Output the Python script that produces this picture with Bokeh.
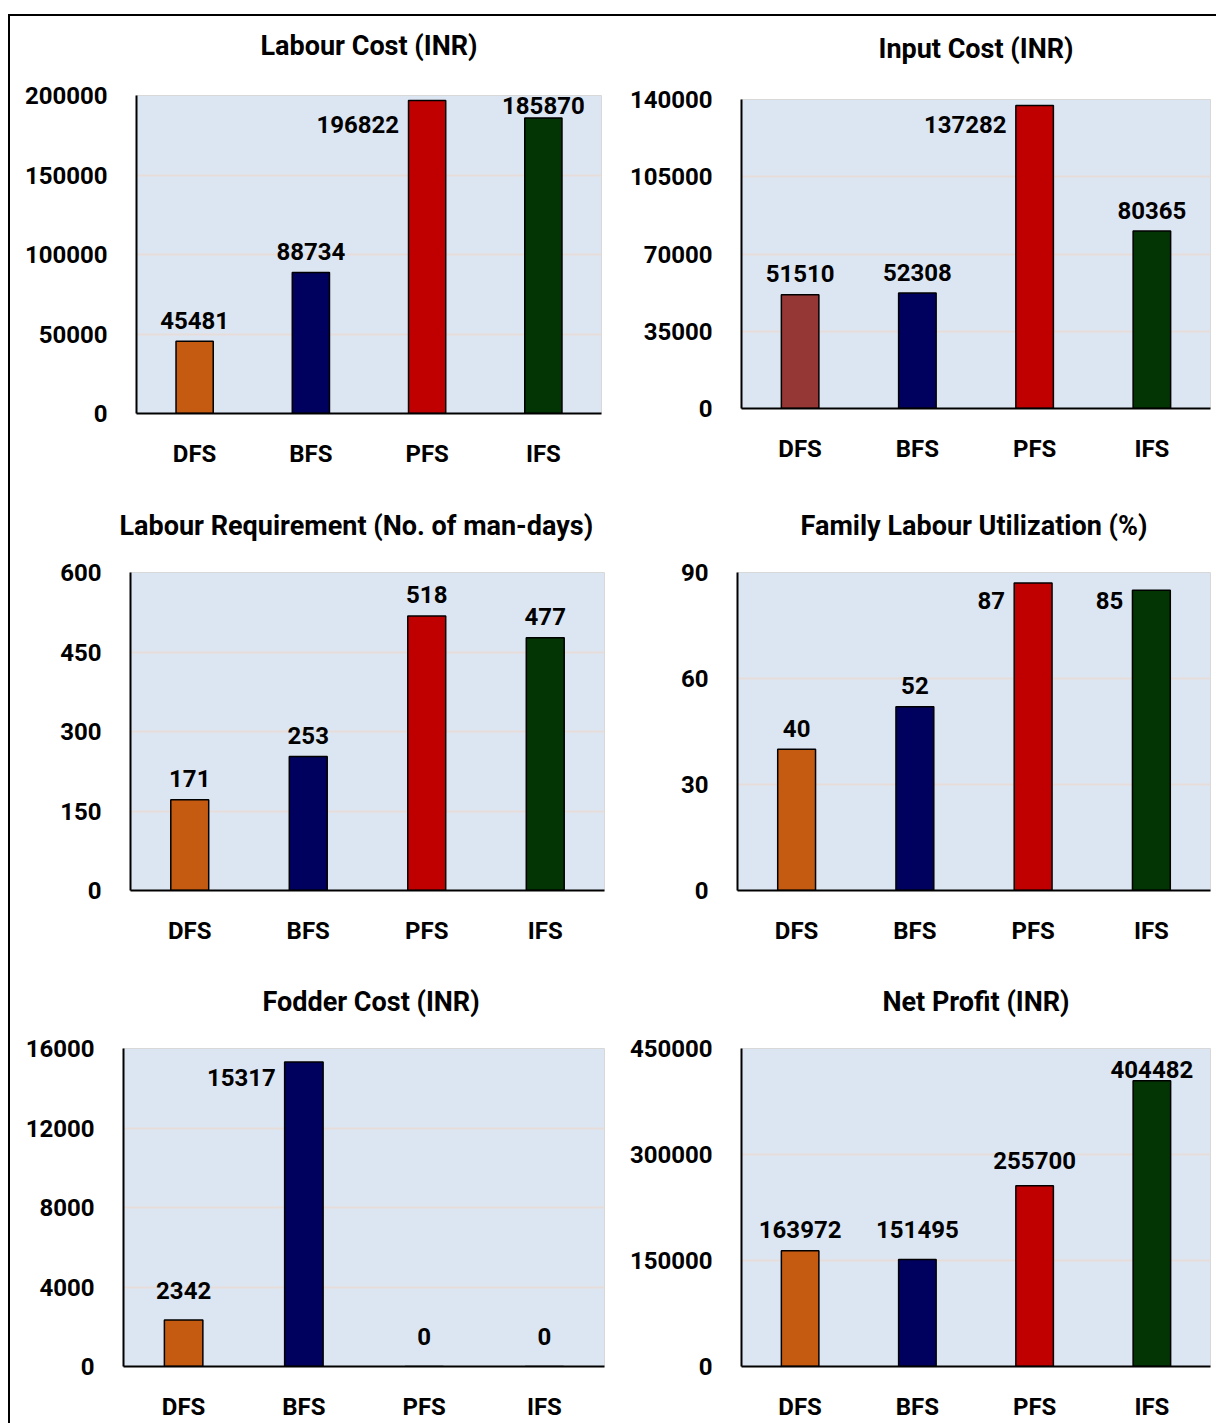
from bokeh.plotting import figure
from bokeh.models import Range1d, FixedTicker, NumeralTickFormatter, ColumnDataSource, Title
from bokeh.layouts import row, column
from bokeh.core.properties import value
from bokeh.embed import file_html
from bokeh.resources import INLINE

# Farming systems compared in every panel
systems = ["DFS", "BFS", "PFS", "IFS"]

# Values per panel
labour_cost = [45481, 88734, 196822, 185870]
input_cost = [51510, 52308, 137282, 80365]
labour_req = [171, 253, 518, 477]
family_util = [40, 52, 87, 85]
fodder_cost = [2342, 15317, 0, 0]
net_profit = [163972, 151495, 255700, 404482]

# Y-axis ticks per panel
ticks_labour_cost = [0, 50000, 100000, 150000, 200000]
ticks_input_cost = [0, 35000, 70000, 105000, 140000]
ticks_labour_req = [0, 150, 300, 450, 600]
ticks_family_util = [0, 30, 60, 90]
ticks_fodder_cost = [0, 4000, 8000, 12000, 16000]
ticks_net_profit = [0, 150000, 300000, 450000]

FONT = "Roboto"
STD_COLORS = ["#C55A11", "#00005E", "#C00000", "#023503"]
INPUT_COLORS = ["#953735", "#00005E", "#C00000", "#023503"]
PLOT_BG = "#DCE6F2"
GRID = "#E6DCDA"


def panel(title, values, ticks, colors, width, height, borders, placement,
          title_gap=28, title_left=None):
    left, right, top, bottom = borders
    p = figure(x_range=systems, y_range=Range1d(0, ticks[-1]),
               width=width, height=height,
               min_border_left=left, min_border_right=right,
               min_border_top=top, min_border_bottom=bottom,
               output_backend="svg", toolbar_location=None,
               background_fill_color=PLOT_BG, border_fill_color="white",
               outline_line_color="#D8D8D8", outline_line_width=1)
    p.frame_align = False

    # blank strip between the plotting area and the heading
    p.add_layout(Title(text=" ", text_font_size="1px", standoff=title_gap), "above")

    p.title.text = title
    if title_left is None:
        p.title.align = "center"
    else:
        p.title.align = "left"
        p.title.offset = title_left
    p.title.standoff = 0
    p.title.text_font = FONT
    p.title.text_font_size = "27px"
    p.title.text_font_style = "bold"
    p.title.text_color = "black"

    src = ColumnDataSource(dict(x=systems, top=values, color=colors))
    p.vbar(x="x", top="top", width=0.32, source=src, fill_color="color",
           line_color="black", line_width=1.5)

    # value labels: most sit above the bar, some beside its top-left corner
    above = dict(x=[], y=[], text=[], dy=[])
    beside = dict(x=[], y=[], text=[], dy=[])
    for cat, v in zip(systems, values):
        where, dy = placement.get(cat, ("above", -21))
        d = above if where == "above" else beside
        d["x"].append(cat)
        d["y"].append(v)
        d["text"].append(str(v))
        d["dy"].append(dy)
    common = dict(text="text", text_font=value(FONT), text_font_style="bold",
                  text_font_size="24px", text_color="black", text_baseline="middle")
    if above["x"]:
        p.text(x="x", y="y", y_offset="dy", source=ColumnDataSource(above),
               text_align="center", **common)
    if beside["x"]:
        p.text(x="x", y="y", y_offset="dy", x_offset=-28, source=ColumnDataSource(beside),
               text_align="right", **common)

    p.xgrid.grid_line_color = None
    p.ygrid.grid_line_color = GRID
    p.ygrid.grid_line_width = 2
    p.yaxis.ticker = FixedTicker(ticks=ticks)
    p.yaxis.formatter = NumeralTickFormatter(format="0")

    for ax in (p.xaxis[0], p.yaxis[0]):
        ax.axis_line_color = "black"
        ax.axis_line_width = 2
        ax.major_tick_line_color = None
        ax.minor_tick_line_color = None
        ax.major_tick_out = 0
        ax.major_tick_in = 0
        ax.major_label_text_font = FONT
        ax.major_label_text_font_style = "bold"
        ax.major_label_text_font_size = "24px"
        ax.major_label_text_color = "black"
    p.yaxis.major_label_standoff = 29
    p.xaxis.major_label_standoff = 26
    return p


p1 = panel("Labour Cost (INR)", labour_cost, ticks_labour_cost, STD_COLORS,
           598, 472, (126, 7, 79, 75), {"PFS": ("beside", 24), "IFS": ("above", -12)},
           title_gap=31)
p2 = panel("Input Cost (INR)", input_cost, ticks_input_cost, INPUT_COLORS,
           608, 472, (133, 6, 83, 80), {"PFS": ("beside", 19)}, title_gap=32)
p3 = panel("Labour Requirement (No. of man-days)", labour_req, ticks_labour_req, STD_COLORS,
           598, 477, (120, 4, 84, 75), {}, title_left=-11)
p4 = panel("Family Labour Utilization (%)", family_util, ticks_family_util, STD_COLORS,
           608, 477, (129, 6, 84, 75), {"PFS": ("beside", 17), "IFS": ("beside", 10)})
p5 = panel("Fodder Cost (INR)", fodder_cost, ticks_fodder_cost, STD_COLORS,
           598, 458, (113, 4, 83, 57), {"BFS": ("beside", 15), "DFS": ("above", -29),
                                        "PFS": ("above", -30), "IFS": ("above", -30)},
           title_left=139)
p6 = panel("Net Profit (INR)", net_profit, ticks_net_profit, STD_COLORS,
           608, 458, (133, 6, 83, 57), {"IFS": ("above", -11), "BFS": ("above", -30),
                                        "PFS": ("above", -25)})

layout = column(row(p1, p2), row(p3, p4), row(p5, p6), margin=(14, 0, 0, 8),
                styles={"border-top": "2px solid black", "border-left": "2px solid black"})

open("out.html", "w").write(file_html(layout, INLINE))
